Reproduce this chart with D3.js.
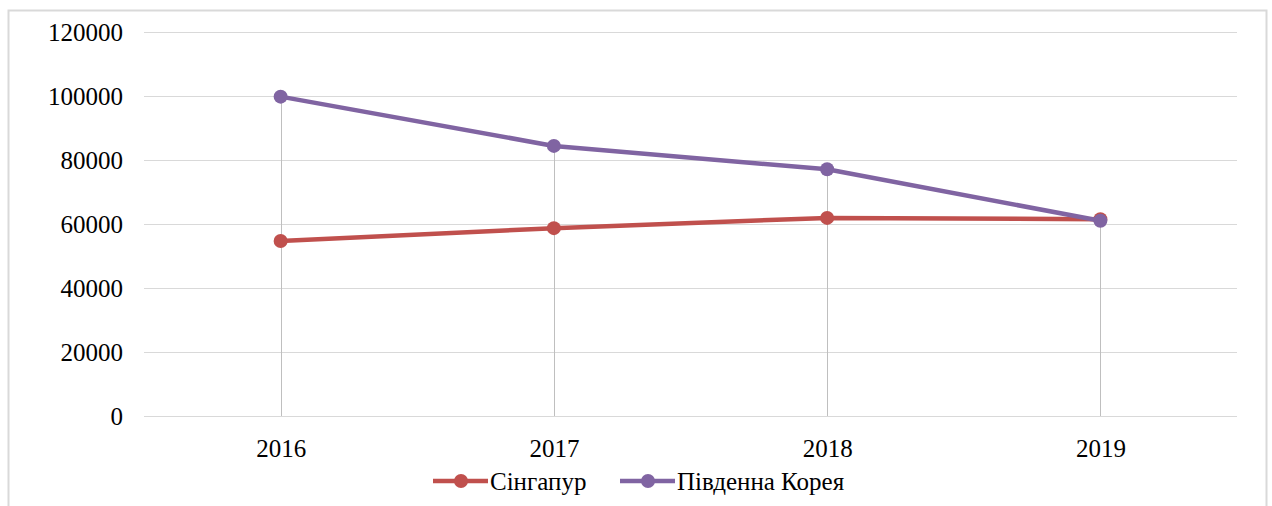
<!DOCTYPE html>
<html>
<head>
<meta charset="utf-8">
<script src="https://cdn.jsdelivr.net/npm/d3@7"></script>
<style>
  body { margin: 0; background: #fff; }
  svg text { font-family: "Times New Roman", "Liberation Serif", "DejaVu Serif", serif !important; fill: #000; }
</style>
</head>
<body>
<script>
// data
var years = ['2016', '2017', '2018', '2019'];
var singapore = [54700, 58700, 61900, 61500];
var korea = [99800, 84400, 77100, 61000];
var yTicks = [0, 20000, 40000, 60000, 80000, 100000, 120000];
var seriesNames = ['Сінгапур', 'Південна Корея'];
var seriesColors = ['#C0504D', '#8064A2'];

var width = 1272, height = 506;
var serif = '"Times New Roman", "Liberation Serif", "DejaVu Serif", serif';
var fontSize = 25;

var svg = d3.select('body').append('svg')
    .attr('width', width)
    .attr('height', height);

// chart frame (bottom edge falls outside the picture)
svg.append('rect')
    .attr('x', 8.5).attr('y', 10.5)
    .attr('width', 1258).attr('height', 520)
    .attr('fill', 'none')
    .attr('stroke', '#d9d9d9')
    .attr('stroke-width', 2);

var x = d3.scalePoint().domain(years).range([144, 1237]).padding(0.5);
var y = d3.scaleLinear().domain([0, 120000]).range([416, 32]);

// gridlines
svg.append('g').selectAll('line')
    .data(yTicks)
    .enter().append('line')
    .attr('x1', 144).attr('x2', 1237)
    .attr('y1', function(d) { return Math.round(y(d)) + 0.5; })
    .attr('y2', function(d) { return Math.round(y(d)) + 0.5; })
    .attr('stroke', '#d9d9d9')
    .attr('stroke-width', 1);

// y axis labels
var yAxis = d3.axisLeft(y).tickValues(yTicks).tickSize(0).tickPadding(0)
    .tickFormat(function(d) { return d; });
var yg = svg.append('g').attr('transform', 'translate(123,0)').call(yAxis)
    .attr('font-family', serif).attr('font-size', fontSize);
yg.select('.domain').remove();
yg.selectAll('text').attr('dy', '0.32em');

// x axis labels
var xAxis = d3.axisBottom(x).tickSize(0).tickPadding(0);
var xg = svg.append('g').attr('transform', 'translate(0,439)').call(xAxis)
    .attr('font-family', serif).attr('font-size', fontSize);
xg.select('.domain').remove();
xg.selectAll('text').attr('dy', '0.71em');

// drop lines from the highest point down to the axis
svg.append('g').selectAll('line')
    .data(years)
    .enter().append('line')
    .attr('x1', function(d) { return Math.round(x(d)) + 0.5; })
    .attr('x2', function(d) { return Math.round(x(d)) + 0.5; })
    .attr('y1', function(d, i) { return y(Math.max(singapore[i], korea[i])); })
    .attr('y2', y(0))
    .attr('stroke', '#bfbfbf')
    .attr('stroke-width', 1);

var line = d3.line()
    .x(function(d, i) { return x(years[i]); })
    .y(function(d) { return y(d); });

[singapore, korea].forEach(function(values, k) {
  svg.append('path')
      .datum(values)
      .attr('d', line)
      .attr('fill', 'none')
      .attr('stroke', seriesColors[k])
      .attr('stroke-width', 4.5)
      .attr('stroke-linejoin', 'round');
  svg.append('g').selectAll('circle')
      .data(values)
      .enter().append('circle')
      .attr('cx', function(d, i) { return x(years[i]); })
      .attr('cy', function(d) { return y(d); })
      .attr('r', 7)
      .attr('fill', seriesColors[k]);
});

// legend
var legendX = [433, 620];
var legend = svg.append('g').selectAll('g')
    .data(seriesNames)
    .enter().append('g')
    .attr('transform', function(d, i) { return 'translate(' + legendX[i] + ',481)'; });
legend.append('line')
    .attr('x1', 0).attr('x2', 55)
    .attr('stroke', function(d, i) { return seriesColors[i]; })
    .attr('stroke-width', 4.5);
legend.append('circle')
    .attr('cx', 28).attr('r', 7)
    .attr('fill', function(d, i) { return seriesColors[i]; });
legend.append('text')
    .attr('x', 57).attr('dy', '0.35em')
    .attr('font-family', serif)
    .attr('font-size', fontSize)
    .text(function(d) { return d; });
</script>
</body>
</html>
